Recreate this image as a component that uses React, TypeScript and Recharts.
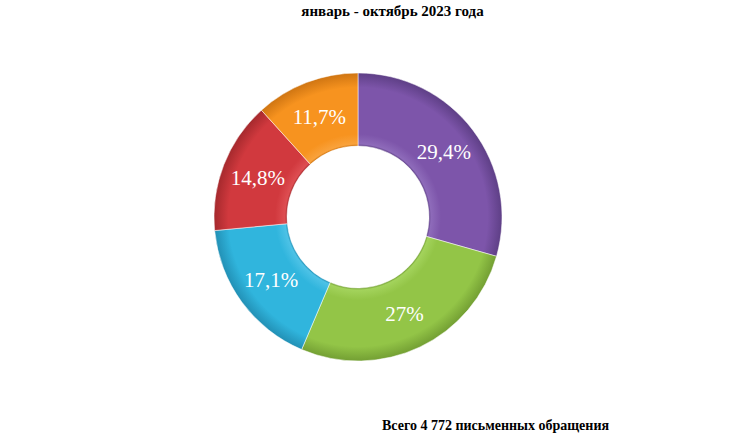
import { PieChart, Pie, Cell } from "recharts";

const categories = ["Категория 1", "Категория 2", "Категория 3", "Категория 4", "Категория 5"];
const shares = [29.4, 27, 17.1, 14.8, 11.7];
const shareLabels = ["29,4%", "27%", "17,1%", "14,8%", "11,7%"];

const colors = ["#7D55AA", "#93C547", "#30B5DD", "#D1393E", "#F7931F"];
const darks = ["#5E3F86", "#739F33", "#2290B5", "#A5292D", "#CF7512"];
const lights = ["#8E6BBA", "#A3D35C", "#4DC2E6", "#DE4E52", "#F9A23C"];

const CX = 358;
const CY = 217;
const INNER = 71;
const OUTER = 144;

const data = categories.map((name, i) => ({ name, value: shares[i], label: shareLabels[i] }));

const RAD = Math.PI / 180;

function renderLabel(props: any) {
  const { cx, cy, midAngle, innerRadius, outerRadius, index } = props;
  const r = (innerRadius + outerRadius) / 2;
  const x = cx + r * Math.cos(-midAngle * RAD);
  const y = cy + r * Math.sin(-midAngle * RAD);
  return (
    <text
      x={x}
      y={y}
      fill="#ffffff"
      textAnchor="middle"
      dominantBaseline="central"
      style={{ fontFamily: "'Liberation Serif', serif", fontSize: 21 }}
    >
      {shareLabels[index]}
    </text>
  );
}

export default function App() {
  return (
    <div style={{ position: "absolute", left: 0, top: 0, width: 735, height: 441, background: "#fff" }}>
      <div
        style={{
          position: "absolute",
          left: 0,
          width: 785,
          top: 3,
          textAlign: "center",
          fontFamily: "'Liberation Serif', serif",
          fontWeight: "bold",
          fontSize: 15,
        }}
      >
        январь - октябрь 2023 года
      </div>
      <PieChart width={735} height={441} margin={{ top: 0, right: 0, bottom: 0, left: 0 }}>
        <defs>
          {colors.map((c, i) => (
            <radialGradient
              key={i}
              id={`grad${i}`}
              gradientUnits="userSpaceOnUse"
              cx={CX}
              cy={CY}
              r={OUTER}
            >
              <stop offset={INNER / OUTER} stopColor={darks[i]} />
              <stop offset={(INNER + 2) / OUTER} stopColor={lights[i]} />
              <stop offset={(INNER + 12) / OUTER} stopColor={c} />
              <stop offset={0.9} stopColor={c} />
              <stop offset={1} stopColor={darks[i]} />
            </radialGradient>
          ))}
        </defs>
        <Pie
          data={data}
          dataKey="value"
          nameKey="name"
          cx={CX}
          cy={CY}
          innerRadius={INNER}
          outerRadius={OUTER}
          startAngle={90}
          endAngle={-270}
          stroke="rgba(255,255,255,0.5)"
          strokeWidth={1}
          label={renderLabel}
          labelLine={false}
          isAnimationActive={false}
        >
          {data.map((_, i) => (
            <Cell key={i} fill={`url(#grad${i})`} />
          ))}
        </Pie>
      </PieChart>
      <div
        style={{
          position: "absolute",
          left: 382,
          top: 418,
          fontFamily: "'Liberation Serif', serif",
          fontWeight: "bold",
          fontSize: 14,
          whiteSpace: "nowrap",
        }}
      >
        Всего 4 772 письменных обращения
      </div>
    </div>
  );
}
